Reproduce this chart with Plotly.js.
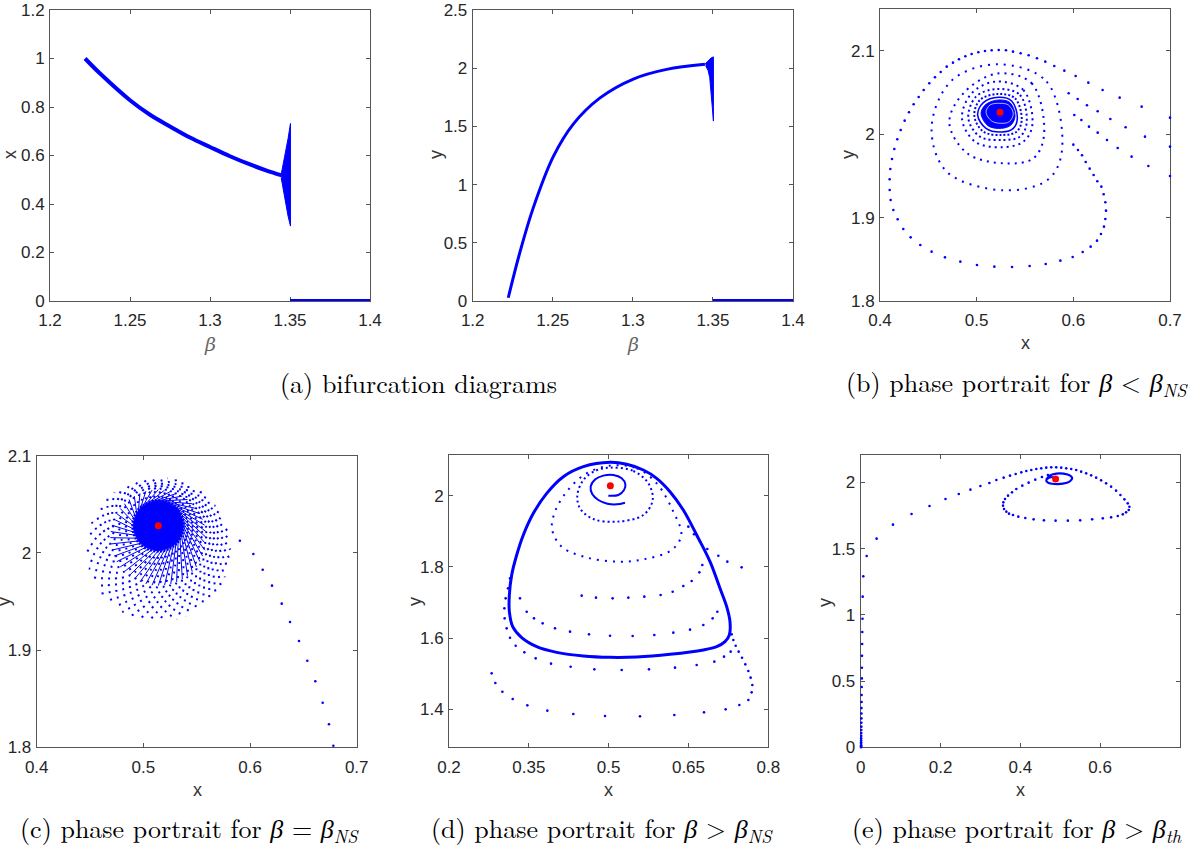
<!DOCTYPE html>
<html><head><meta charset="utf-8">
<script src="https://cdn.plot.ly/plotly-3.0.1.min.js"></script>
<style>html,body{margin:0;padding:0;background:#fff}</style>
</head><body>
<div id="chart" style="width:1202px;height:851px"></div>
<script>
// ---------------- DATA ----------------
// (a) bifurcation diagrams
const a1Beta = [1.2219,1.2313,1.25,1.2625,1.275,1.2875,1.30,1.3125,1.325,1.3354,1.345];
const a1X    = [1.0,0.938,0.828,0.768,0.72,0.674,0.635,0.597,0.563,0.538,0.518];
const a1FanBeta = [1.3445,1.3475,1.3488,1.3503,1.3503,1.3488,1.3475,1.3458,1.3445];
const a1FanX    = [0.522,0.62,0.67,0.732,0.309,0.35,0.40,0.47,0.508];
const a2Beta = [1.2222,1.2295,1.2378,1.2503,1.2628,1.2795,1.3003,1.3211,1.345];
const a2Y    = [0.028,0.42,0.80,1.24,1.52,1.745,1.907,1.99,2.033];
const a2FanBeta = [1.3452,1.3475,1.349,1.3503,1.3503,1.3497,1.349,1.348,1.347,1.3455];
const a2FanY    = [2.037,2.07,2.09,2.097,1.546,1.65,1.8,1.92,1.98,2.02];
const zeroBeta = [1.35,1.4];
const zeroVal  = [0,0];

// (b) beta < beta_NS
const bRing1X = [0.6155,0.6024,0.5907,0.5803,0.5710,0.5624,0.5538,0.5455,0.5376,0.5303,0.5228,0.5155,0.5086,0.5017,0.4948,0.4883,0.4817,0.4755,0.4690,0.4628,0.4569,0.4510,0.4452,0.4400,0.4348,0.4300,0.4255,0.4214,0.4179,0.4148,0.4124,0.4107,0.4100,0.4100,0.4110,0.4138,0.4183,0.4241,0.4317,0.4417,0.4534,0.4672,0.4831,0.5003,0.5183,0.5366,0.5548,0.5714,0.5866,0.5993,0.6097,0.6179,0.6245,0.6286,0.6317,0.6331,0.6338,0.6331,0.6314,0.6290,0.6248,0.6210,0.6169,0.6128,0.6090,0.6048,0.6000];
const bRing1Y = [2.062,2.070,2.0764,2.082,2.0872,2.0912,2.0948,2.0972,2.0992,2.1008,2.1012,2.1008,2.1,2.0984,2.0964,2.0936,2.09,2.086,2.0812,2.0748,2.0684,2.0612,2.0532,2.0448,2.036,2.0264,2.0164,2.0052,1.994,1.9824,1.9704,1.9584,1.946,1.9332,1.9212,1.9092,1.898,1.8864,1.8764,1.8672,1.8592,1.8524,1.8472,1.8432,1.8412,1.8408,1.842,1.8444,1.8484,1.8528,1.8588,1.8652,1.8724,1.8804,1.8892,1.8984,1.9084,1.9184,1.928,1.9372,1.9436,1.9512,1.9588,1.9668,1.9748,1.9812,1.9876];
const bChainX = [0.7,0.6707,0.6479,0.6303,0.7,0.6741,0.6541,0.6383,0.6252,0.6141,0.6045,0.5952,0.7,0.6776,0.6603,0.6459,0.6348,0.6252,0.6162,0.6083,0.6010];
const bChainY = [2.02,2.0332,2.044,2.0532,1.9852,1.9972,2.0084,2.0184,2.0276,2.0348,2.0424,2.0492,1.95,1.962,1.9732,1.9836,1.9932,2.002,2.0092,2.0172,2.0232];
const bRing2X = [0.5214,0.5724,0.5883,0.5741,0.5283,0.4690,0.4534,0.4741,0.5214];
const bRing2Y = [2.084,2.0632,1.9812,1.946,1.9328,1.9552,2.0084,2.0644,2.084];
const bRing3X = [0.5207,0.5569,0.5697,0.5586,0.5283,0.4903,0.4717,0.4862,0.5207];
const bRing3Y = [2.0728,2.0612,1.9992,1.9712,1.9652,1.9772,2.014,2.0492,2.0728];
const bRing4X = [0.5190,0.5483,0.5576,0.5483,0.5259,0.4983,0.4848,0.4948,0.5190];
const bRing4Y = [2.0632,2.0532,2.0112,1.9912,1.9844,1.9912,2.0192,2.0492,2.0632];
const bRing5X = [0.5207,0.5448,0.5517,0.5448,0.5276,0.5034,0.4914,0.4993,0.5207];
const bRing5Y = [2.0544,2.0472,2.0132,1.9972,1.9932,1.9972,2.0192,2.0452,2.0544];
const bRing6X = [0.5224,0.5397,0.5466,0.5414,0.5269,0.5069,0.4976,0.5034,0.5224];
const bRing6Y = [2.0484,2.0432,2.0172,2.0032,1.9992,2.0032,2.0222,2.0412,2.0484];
const bRing7X = [0.5228,0.5362,0.5421,0.5379,0.5262,0.5097,0.5010,0.5069,0.5228];
const bRing7Y = [2.0444,2.04,2.0192,2.0072,2.0028,2.0072,2.0232,2.038,2.0444];
const bCoreX = [0.5231,0.5345,0.5397,0.5355,0.5259,0.5121,0.5045,0.5097,0.5231];
const bCoreY = [2.0412,2.038,2.022,2.0112,2.0072,2.01,2.0252,2.036,2.0412];
const bInnerX = [0.5241,0.5328,0.5379,0.5338,0.5248,0.5155,0.5097,0.5138,0.5241];
const bInnerY = [2.0372,2.0352,2.0252,2.0152,2.0132,2.016,2.0264,2.0352,2.0372];
const bFixed = [0.5241,2.0264];

// (c) beta = beta_NS : pinwheel arms (inner, middle, outer point of each arm)
const cArmInX = [0.5374,0.5366,0.5343,0.5306,0.5257,0.5201,0.514,0.5079,0.5023,0.4974,0.4937,0.4914,0.4906,0.4914,0.4937,0.4974,0.5023,0.5079,0.514,0.5201,0.5257,0.5306,0.5343,0.5366];
const cArmInY = [2.028,2.0347,2.0409,2.0462,2.0503,2.0528,2.0537,2.0528,2.0503,2.0462,2.0409,2.0347,2.028,2.0213,2.0151,2.0098,2.0057,2.0032,2.0023,2.0032,2.0057,2.0098,2.0151,2.0213];
const cArmMidX = [0.553,0.5575,0.559,0.5575,0.553,0.5458,0.5365,0.5257,0.514,0.5023,0.4915,0.4822,0.475,0.4705,0.469,0.4705,0.475,0.4822,0.4915,0.5023,0.514,0.5257,0.5365,0.5458];
const cArmMidY = [1.991,2.0029,2.0157,2.0285,2.0404,2.0506,2.0585,2.0634,2.0651,2.0634,2.0585,2.0506,2.0404,2.0285,2.0157,2.0029,1.991,1.9807,1.9729,1.968,1.9663,1.968,1.9729,1.9807];
const cArmOutX = [0.5478,0.5617,0.5725,0.5792,0.5815,0.5792,0.5725,0.5617,0.5478,0.5315,0.514,0.4965,0.4802,0.4663,0.4555,0.4488,0.4465,0.4488,0.4555,0.4663,0.4802,0.4965,0.514,0.5315];
const cArmOutY = [1.9391,1.9509,1.9663,1.9841,2.0033,2.0225,2.0403,2.0557,2.0675,2.0749,2.0774,2.0749,2.0675,2.0557,2.0403,2.0225,2.0033,1.9841,1.9663,1.9509,1.9391,1.9317,1.9292,1.9317];
const cArm2InX = [0.5372,0.5357,0.5326,0.5283,0.523,0.5171,0.5109,0.505,0.4997,0.4954,0.4923,0.4908,0.4908,0.4923,0.4954,0.4997,0.505,0.5109,0.5171,0.523,0.5283,0.5326,0.5357,0.5372];
const cArm2InY = [2.0314,2.0378,2.0437,2.0484,2.0518,2.0535,2.0535,2.0518,2.0484,2.0437,2.0378,2.0314,2.0246,2.0182,2.0123,2.0076,2.0042,2.0025,2.0025,2.0042,2.0076,2.0123,2.0182,2.0246];
const cArm2MidX = [0.5556,0.5586,0.5586,0.5556,0.5497,0.5414,0.5312,0.5199,0.5081,0.4968,0.4866,0.4783,0.4724,0.4694,0.4694,0.4724,0.4783,0.4866,0.4968,0.5081,0.5199,0.5312,0.5414,0.5497];
const cArm2MidY = [1.9967,2.0092,2.022,2.0346,2.0457,2.0549,2.0613,2.0646,2.0646,2.0613,2.0549,2.0457,2.0346,2.022,2.0092,1.9967,1.9856,1.9765,1.97,1.9667,1.9667,1.97,1.9765,1.9856];
const cArm2OutX = [0.5551,0.5676,0.5764,0.5809,0.5809,0.5764,0.5676,0.5551,0.5398,0.5228,0.5052,0.4882,0.4729,0.4604,0.4516,0.4471,0.4471,0.4516,0.4604,0.4729,0.4882,0.5052,0.5228,0.5398];
const cArm2OutY = [1.9445,1.9582,1.9749,1.9936,2.013,2.0317,2.0484,2.0621,2.0718,2.0768,2.0768,2.0718,2.0621,2.0484,2.0317,2.013,1.9936,1.9749,1.9582,1.9445,1.9348,1.9298,1.9298,1.9348];
const cCoreX = [0.5374,0.5306,0.514,0.4974,0.4906,0.4974,0.514,0.5306,0.5374];
const cCoreY = [2.028,2.0462,2.0537,2.0462,2.028,2.0098,2.0023,2.0098,2.028];
const cTailX = [0.5905,0.6031,0.6119,0.6206,0.6297,0.6375,0.6459,0.6537,0.6612,0.6681,0.6740,0.6781];
const cTailY = [2.0125,1.9989,1.9827,1.9663,1.9478,1.9289,1.9094,1.8891,1.8679,1.8459,1.8237,1.8016];
const cFixed = [0.514,2.028];

// (d) beta > beta_NS
const dCycleX = [0.5026,0.5339,0.5652,0.5902,0.6153,0.6403,0.6654,0.6905,0.7092,0.7218,0.7280,0.7268,0.7186,0.7030,0.6779,0.6153,0.5527,0.5026,0.4525,0.4023,0.3648,0.3366,0.3197,0.3134,0.3134,0.3178,0.3272,0.3397,0.3585,0.3836,0.4149,0.4525,0.5026];
const dCycleY = [2.0937,2.0881,2.0722,2.0488,2.0113,1.9598,1.8896,1.8147,1.7398,1.6883,1.6461,1.6087,1.59,1.5759,1.5666,1.5544,1.5469,1.5459,1.5497,1.56,1.5759,1.6012,1.6321,1.6742,1.7211,1.7772,1.8334,1.8896,1.9504,2.0066,2.0534,2.0815,2.0937];
const dCurlX = [0.4994,0.5182,0.5289,0.5314,0.5245,0.5088,0.4900,0.4750,0.4662,0.4694,0.4806,0.4975,0.5151,0.5307];
const dCurlY = [2.0001,2.0019,2.016,2.0319,2.0488,2.0581,2.0563,2.046,2.0254,2.0038,1.9879,1.9776,1.9757,1.9804];
const dRingAX = [0.5026,0.5464,0.5746,0.5827,0.5652,0.5151,0.4712,0.4462,0.4412,0.4525,0.4744,0.5026];
const dRingAY = [2.0787,2.0694,2.0347,1.9879,1.9458,1.927,1.9345,1.9645,2.0019,2.0441,2.0694,2.0787];
const dRingBX = [0.5026,0.5527,0.5902,0.6216,0.6366,0.6184,0.5652,0.5182,0.4600,0.4117,0.3936,0.3992,0.4211,0.4556,0.5026];
const dRingBY = [2.0843,2.0768,2.0347,1.9551,1.8896,1.8475,1.8212,1.8147,1.8259,1.8568,1.9064,1.9551,2.0113,2.06,2.0843];
const dDotsX = [0.2802,0.2871,0.3003,0.3197,0.3472,0.3848,0.4336,0.4932,0.5589,0.6234,0.6792,0.7199,0.7456,0.7625,0.7687,0.77,0.7668,0.7625,0.7568,0.7506,0.7443,0.7387,0.7343,0.7312,
  0.7499,0.7230,0.7061,0.6854,0.6716,0.6604,0.6497,
  0.3147,0.3109,0.3065,0.304,0.3046,0.3084,
  0.3147,0.3253,0.3416,0.3629,0.3917,0.4286,0.4731,0.5245,0.5758,0.6247,0.6654,0.6986,0.7168,0.7293,
  0.3334,0.3460,0.3597,0.376,0.3992,0.4274,0.4631,0.5026,0.5451,0.5858,0.6215,0.6529,0.6779,0.6954,0.7042,
  0.4493,0.4762,0.5075,0.537,0.567,0.5977,0.6203,0.6403,0.656,0.6704,0.676];
const dDotsY = [1.501,1.4739,1.4495,1.429,1.4111,1.3962,1.3868,1.3812,1.3803,1.384,1.3915,1.3999,1.4121,1.4261,1.4477,1.4682,1.4889,1.5076,1.5263,1.545,1.5619,1.5787,1.5947,1.6106,
  1.7988,1.8147,1.8315,1.8502,1.8709,1.8915,1.913,
  1.7679,1.7398,1.7117,1.6836,1.6555,1.6274,
  1.6012,1.5787,1.56,1.5432,1.5282,1.5197,1.5123,1.5104,1.5123,1.517,1.5245,1.5338,1.5479,1.5619,
  1.7117,1.6742,1.6555,1.6415,1.6274,1.6181,1.6106,1.6068,1.6059,1.6087,1.6153,1.6237,1.6368,1.6555,1.6742,
  1.7192,1.7136,1.7117,1.7136,1.7164,1.7211,1.7304,1.7464,1.7604,1.7847,1.8053];
const dFixed = [0.5032,2.0282];

// (e) beta > beta_th
const eColX = [0.001,0.001,0.001,0.001,0.001,0.0012,0.0012,0.0013,0.0014,0.0015,0.0016,0.0017,0.0018,0.002,0.002,0.0022,0.0024,0.0026,0.0028,0.003,0.0033,0.0036,0.004,0.0045,0.005,0.0065];
const eColY = [0,0.008,0.016,0.026,0.038,0.052,0.068,0.086,0.107,0.13,0.156,0.185,0.218,0.255,0.296,0.342,0.395,0.455,0.52,0.6,0.69,0.78,0.87,0.97,1.137,1.29];
const eArcX = [0.0149,0.0399,0.0808,0.1274,0.1724,0.2124,0.2458,0.2749,0.2999,0.3224,0.3399,0.3582,0.3741,0.3883,0.4024,0.4149,0.4274,0.4399,0.4524,0.4649,0.4774,0.4899,0.5024,0.5149,0.5274,0.5399];
const eArcY = [1.4437,1.5746,1.6802,1.7607,1.8211,1.8738,1.9117,1.9444,1.972,1.9947,2.0173,2.035,2.05,2.0626,2.0752,2.0852,2.0928,2.1003,2.1054,2.1104,2.1129,2.1129,2.1104,2.1054,2.1003,2.0928];
const eLoopX = [0.5524,0.5649,0.5774,0.5899,0.6024,0.6149,0.6274,0.6399,0.6507,0.6607,0.6691,0.6732,0.6716,0.6649,0.6566,0.6441,0.6274,0.6066,0.5799,0.5499,0.519,0.4883,0.4591,0.4333,0.4124,0.3949,0.3816,0.3716,0.3649,0.3591,0.3566,0.3574,0.3616,0.3691,0.3791,0.3899,0.4049,0.4208,0.4374,0.4541,0.4691];
const eLoopY = [2.0802,2.0676,2.0525,2.0349,2.0148,1.9922,1.967,1.9368,1.9041,1.8714,1.8412,1.816,1.7909,1.7733,1.7582,1.7456,1.7356,1.728,1.7205,1.7129,1.7104,1.7104,1.7129,1.7205,1.7305,1.7406,1.7532,1.7632,1.7783,1.7985,1.8236,1.8488,1.8739,1.8991,1.9242,1.9494,1.9746,1.9972,2.0198,2.04,2.0551];
const eSmallX = [0.4649,0.4732,0.4899,0.5082,0.5249,0.5299,0.5232,0.5066,0.4858,0.4691,0.4649,0.4716,0.4883];
const eSmallY = [2.0198,2.05,2.0651,2.0651,2.05,2.0299,2.0047,1.9897,1.9872,1.9972,2.0148,2.035,2.04];
const eFixed = [0.4883,2.0249];

// ticks
const aBetaTicks = [1.2,1.25,1.3,1.35,1.4];
const aBetaText  = ['1.2','1.25','1.3','1.35','1.4'];
const a1YTicks = [0,0.2,0.4,0.6,0.8,1,1.2];
const a1YText  = ['0','0.2','0.4','0.6','0.8','1','1.2'];
const a2YTicks = [0,0.5,1,1.5,2,2.5];
const a2YText  = ['0','0.5','1','1.5','2','2.5'];
const bcXTicks = [0.4,0.5,0.6,0.7];
const bcXText  = ['0.4','0.5','0.6','0.7'];
const bcYTicks = [1.8,1.9,2,2.1];
const bcYText  = ['1.8','1.9','2','2.1'];
const dXTicks = [0.2,0.35,0.5,0.65,0.8];
const dXText  = ['0.2','0.35','0.5','0.65','0.8'];
const dYTicks = [1.4,1.6,1.8,2];
const dYText  = ['1.4','1.6','1.8','2'];
const eXTicks = [0,0.2,0.4,0.6];
const eXText  = ['0','0.2','0.4','0.6'];
const eYTicks = [0,0.5,1,1.5,2];
const eYText  = ['0','0.5','1','1.5','2'];

const captionTexts = [
  '(a) bifurcation diagrams',
  '(b) phase portrait for <i>β</i> &lt; <i>β</i><sub><i>NS</i></sub>',
  '(c) phase portrait for <i>β</i> = <i>β</i><sub><i>NS</i></sub>',
  '(d) phase portrait for <i>β</i> &gt; <i>β</i><sub><i>NS</i></sub>',
  '(e) phase portrait for <i>β</i> &gt; <i>β</i><sub><i>th</i></sub>'
];

// ---------------- DRAW ----------------
const BLUE = '#0000ff';
const W = 1202, H = 851;
const traces = [];
function dots(xa, ya, X, Y, size) {
  traces.push({type:'scatter', mode:'markers', x:X, y:Y, xaxis:xa, yaxis:ya,
    marker:{color:BLUE, size:size||2.6, line:{width:0}}, cliponaxis:false, hoverinfo:'skip', showlegend:false});
}
function curve(xa, ya, X, Y, width, dash, shape) {
  traces.push({type:'scatter', mode:'lines', x:X, y:Y, xaxis:xa, yaxis:ya,
    line:{color:BLUE, width:width, dash:dash||'solid', shape:shape||'spline', smoothing:1},
    cliponaxis:false, hoverinfo:'skip', showlegend:false});
}
function blob(xa, ya, X, Y, shape) {
  traces.push({type:'scatter', mode:'lines', x:X, y:Y, xaxis:xa, yaxis:ya, fill:'toself',
    fillcolor:BLUE, line:{color:BLUE, width:1, shape:shape||'spline'}, hoverinfo:'skip', showlegend:false});
}
function fixed(xa, ya, P) {
  traces.push({type:'scatter', mode:'markers', x:[P[0]], y:[P[1]], xaxis:xa, yaxis:ya,
    marker:{color:'#ff0000', size:7}, hoverinfo:'skip', showlegend:false});
}

// (a) left
curve('x','y', a1Beta, a1X, 4);
blob('x','y', a1FanBeta, a1FanX, 'linear');
curve('x','y', zeroBeta, zeroVal, 4, 'solid', 'linear');
// (a) right
curve('x2','y2', a2Beta, a2Y, 3);
blob('x2','y2', a2FanBeta, a2FanY, 'linear');
curve('x2','y2', zeroBeta, zeroVal, 4, 'solid', 'linear');
// (b)
dots('x3','y3', bRing1X, bRing1Y);
dots('x3','y3', bChainX, bChainY);
curve('x3','y3', bRing2X, bRing2Y, 2, '2px,6px');
curve('x3','y3', bRing3X, bRing3Y, 2, '2px,5px');
curve('x3','y3', bRing4X, bRing4Y, 2, '2px,4px');
curve('x3','y3', bRing5X, bRing5Y, 2, '2px,3px');
curve('x3','y3', bRing6X, bRing6Y, 2, '2px,2px');
curve('x3','y3', bRing7X, bRing7Y, 1.6);
blob('x3','y3', bCoreX, bCoreY);
traces.push({type:'scatter', mode:'lines', x:bInnerX, y:bInnerY, xaxis:'x3', yaxis:'y3',
  line:{color:'#ffffff', width:0.7, shape:'spline'}, hoverinfo:'skip', showlegend:false});
fixed('x3','y3', bFixed);
// (c)
(function(){
  const inX = cArmInX.concat(cArm2InX), inY = cArmInY.concat(cArm2InY);
  const midX = cArmMidX.concat(cArm2MidX), midY = cArmMidY.concat(cArm2MidY);
  const outX = cArmOutX.concat(cArm2OutX), outY = cArmOutY.concat(cArm2OutY);
  const AX = [], AY = [], SX = [], SY = [];
  for (let i = 0; i < inX.length; i++) {
    AX.push(inX[i], midX[i], outX[i], null);
    AY.push(inY[i], midY[i], outY[i], null);
    SX.push(inX[i], midX[i], null);
    SY.push(inY[i], midY[i], null);
  }
  curve('x4','y4', AX, AY, 2, '2px,5px');
  curve('x4','y4', SX, SY, 1, 'solid', 'linear');
})();
blob('x4','y4', cCoreX, cCoreY);
dots('x4','y4', cTailX, cTailY);
fixed('x4','y4', cFixed);
// (d)
curve('x5','y5', dCycleX, dCycleY, 3);
curve('x5','y5', dRingBX, dRingBY, 2, '2px,6px');
curve('x5','y5', dRingAX, dRingAY, 2, '2px,3px');
curve('x5','y5', dCurlX, dCurlY, 2);
dots('x5','y5', dDotsX, dDotsY);
fixed('x5','y5', dFixed);
// (e)
dots('x6','y6', eColX, eColY);
dots('x6','y6', eArcX, eArcY);
dots('x6','y6', eLoopX, eLoopY);
curve('x6','y6', eSmallX, eSmallY, 2.2);
fixed('x6','y6', eFixed);

const TICKFONT = {family:'Liberation Sans, Arial, sans-serif', size:17, color:'#262626'};
function ax(px0, px1, range, tv, tt, anchor) {
  return {domain:[px0/W, px1/W], range:range, tickvals:tv, ticktext:tt, anchor:anchor,
    showline:true, linecolor:'#555555', linewidth:1, mirror:'ticks', ticks:'inside', ticklen:4,
    tickcolor:'#555555', showgrid:false, zeroline:false, tickfont:TICKFONT, layer:'below traces',
    fixedrange:true, automargin:false, ticklabelstandoff:4};
}
function ay(py0, py1, range, tv, tt, anchor) {
  const a = ax(0, 1, range, tv, tt, anchor);
  a.domain = [1 - py1/H, 1 - py0/H];
  a.ticklabelstandoff = 1;
  return a;
}

const layout = {
  width:W, height:H, margin:{l:0,r:0,t:0,b:0}, paper_bgcolor:'#fff', plot_bgcolor:'#fff', showlegend:false,
  xaxis:  ax(50, 370, [1.2,1.4], aBetaTicks, aBetaText, 'y'),
  yaxis:  ay(10, 301, [0,1.2], a1YTicks, a1YText, 'x'),
  xaxis2: ax(472.7, 793, [1.2,1.4], aBetaTicks, aBetaText, 'y2'),
  yaxis2: ay(10, 301, [0,2.5], a2YTicks, a2YText, 'x2'),
  xaxis3: ax(880, 1170, [0.4,0.7], bcXTicks, bcXText, 'y3'),
  yaxis3: ay(9.3, 301, [1.8,2.15], bcYTicks, bcYText, 'x3'),
  xaxis4: ax(36.7, 356.7, [0.4,0.7], bcXTicks, bcXText, 'y4'),
  yaxis4: ay(455.7, 747.3, [1.8,2.1], bcYTicks, bcYText, 'x4'),
  xaxis5: ax(449, 768.3, [0.2,0.8], dXTicks, dXText, 'y5'),
  yaxis5: ay(455, 747.3, [1.2933,2.1143], dYTicks, dYText, 'x5'),
  xaxis6: ax(860.7, 1180, [0,0.8], eXTicks, eXText, 'y6'),
  yaxis6: ay(455, 747.3, [0,2.206], eYTicks, eYText, 'x6'),
  annotations: []
};

const LBL = {family:'Liberation Sans, Arial, sans-serif', size:18, color:'#333333'};
const BETA = {family:'DejaVu Serif, serif', size:19, color:'#666666'};
function lab(text, px, py, rot, font) {
  layout.annotations.push({text:text, x:px/W, y:1-py/H, xref:'paper', yref:'paper', showarrow:false,
    textangle:rot, font:font, xanchor:'center', yanchor:'middle'});
}
lab('x', 10, 155, -90, LBL);
lab('<i>β</i>', 210, 344, 0, BETA);
lab('y', 436, 155, -90, LBL);
lab('<i>β</i>', 633, 344, 0, BETA);
lab('y', 848, 155, -90, LBL);
lab('x', 1025, 343, 0, LBL);
lab('y', 4, 602, -90, LBL);
lab('x', 197, 790, 0, LBL);
lab('y', 415, 602, -90, LBL);
lab('x', 608, 790, 0, LBL);
lab('y', 825, 602, -90, LBL);
lab('x', 1020, 790, 0, LBL);

const CAP = {family:'Latin Modern Roman, CMU Serif, Liberation Serif, DejaVu Serif, serif', size:26, color:'#000'};
const capPos = [[418,382],[1017,382],[189,828],[602,828],[1017,828]];
captionTexts.forEach((t,i) => lab(t, capPos[i][0], capPos[i][1], 0, CAP));

Plotly.newPlot('chart', traces, layout, {staticPlot:true, displayModeBar:false});
</script>
</body></html>
